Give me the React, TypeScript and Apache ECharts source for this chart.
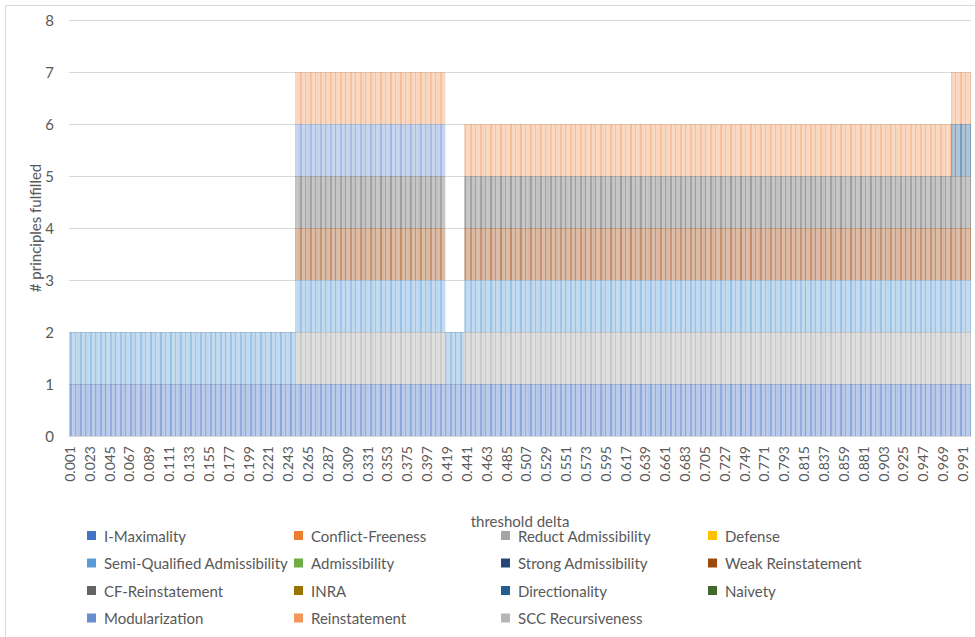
import React, { useEffect, useRef } from "react";
import * as echarts from "echarts";

// categories: threshold delta 0.001 .. 1.000
const categories: string[] = Array.from({ length: 1000 }, (_, i) => ((i + 1) / 1000).toFixed(3));

// principle names in Excel series order
const seriesNames = [
  "I-Maximality",
  "Conflict-Freeness",
  "Reduct Admissibility",
  "Defense",
  "Semi-Qualified Admissibility",
  "Admissibility",
  "Strong Admissibility",
  "Weak Reinstatement",
  "CF-Reinstatement",
  "INRA",
  "Directionality",
  "Naivety",
  "Modularization",
  "Reinstatement",
  "SCC Recursiveness",
];

const seriesColors = [
  "#4472C4", "#ED7D31", "#A5A5A5", "#FFC000", "#5B9BD5", "#70AD47",
  "#264478", "#9E480E", "#636363", "#997300", "#255E91", "#43682B",
  "#698ED0", "#F1975A", "#B7B7B7",
];

// delta ranges (inclusive) in which each principle is fulfilled
const iMaximality: [number, number][] = [[0.001, 1.0]];
const conflictFreeness: [number, number][] = [];
const reductAdmissibility: [number, number][] = [[0.252, 0.417], [0.439, 1.0]];
const defense: [number, number][] = [];
const semiQualifiedAdmissibility: [number, number][] = [[0.001, 1.0]];
const admissibility: [number, number][] = [];
const strongAdmissibility: [number, number][] = [];
const weakReinstatement: [number, number][] = [[0.252, 0.417], [0.439, 1.0]];
const cfReinstatement: [number, number][] = [[0.252, 0.417], [0.439, 1.0]];
const inra: [number, number][] = [];
const directionality: [number, number][] = [[0.979, 1.0]];
const naivety: [number, number][] = [];
const modularization: [number, number][] = [[0.252, 0.417]];
const reinstatement: [number, number][] = [[0.252, 0.417], [0.439, 1.0]];
const sccRecursiveness: [number, number][] = [];

const seriesRanges = [
  iMaximality, conflictFreeness, reductAdmissibility, defense,
  semiQualifiedAdmissibility, admissibility, strongAdmissibility, weakReinstatement,
  cfReinstatement, inra, directionality, naivety,
  modularization, reinstatement, sccRecursiveness,
];

const yTicks = [0, 1, 2, 3, 4, 5, 6, 7, 8];

function hexToRgba(hex: string, a: number) {
  const r = parseInt(hex.slice(1, 3), 16);
  const g = parseInt(hex.slice(3, 5), 16);
  const b = parseInt(hex.slice(5, 7), 16);
  return `rgba(${r},${g},${b},${a})`;
}

const FONT = "Lato";
const TEXT = "#595959";

export default function App() {
  const ref = useRef<HTMLDivElement>(null);
  useEffect(() => {
    if (!ref.current) return;
    const chart = echarts.init(ref.current, undefined, { renderer: "svg" });

    const series = seriesNames.map((name, si) => ({
      name,
      type: "bar",
      stack: "total",
      barCategoryGap: "0%",
      itemStyle: {
        color: hexToRgba(seriesColors[si], 0.36),
        decal: {
          symbol: "rect",
          symbolSize: 1,
          dashArrayX: [[1.5, 3, 1, 4]],
          dashArrayY: [40, 0],
          color: hexToRgba(seriesColors[si], 0.35),
        },
      },
      data: categories.map((c) => {
        const v = parseFloat(c);
        return seriesRanges[si].some(([a, b]) => v >= a - 1e-9 && v <= b + 1e-9) ? 1 : "-";
      }),
    }));

    const columns = [
      [0, 4, 8, 12],
      [1, 5, 9, 13],
      [2, 6, 10, 14],
      [3, 7, 11],
    ];
    const colX = [87, 294, 501, 708];

    const legends = columns.map((col, ci) => ({
      orient: "vertical",
      left: colX[ci],
      top: 527,
      padding: 0,
      icon: "rect",
      itemWidth: 9,
      itemHeight: 9,
      itemGap: 10.5,
      selectedMode: false,
      textStyle: { fontFamily: FONT, fontSize: 15, color: TEXT, lineHeight: 17, padding: [0, 0, 0, 3] },
      data: col.map((i) => ({ name: seriesNames[i], itemStyle: { color: seriesColors[i], opacity: 1, decal: "none" } })),
    }));

    chart.setOption({
      animation: false,
      backgroundColor: "#ffffff",
      textStyle: { fontFamily: FONT },
      grid: { left: 69, right: 4, top: 20, bottom: 201, containLabel: false },
      legend: legends,
      xAxis: {
        type: "category",
        data: categories,
        name: "threshold delta",
        nameLocation: "middle",
        nameGap: 77,
        nameMoveOverlap: false,
        nameTextStyle: { fontFamily: FONT, fontSize: 15, color: TEXT },
        axisLine: { show: true, lineStyle: { color: "#d9d9d9" } },
        axisTick: { show: false },
        axisLabel: {
          interval: 21,
          rotate: 90,
          margin: 10,
          fontFamily: FONT,
          fontSize: 14,
          color: TEXT,
        },
      },
      yAxis: {
        type: "value",
        min: yTicks[0],
        max: yTicks[yTicks.length - 1],
        interval: 1,
        name: "# principles fulfilled",
        nameLocation: "middle",
        nameGap: 27,
        nameMoveOverlap: false,
        nameTextStyle: { fontFamily: FONT, fontSize: 15, color: TEXT },
        axisLine: { show: false },
        axisTick: { show: false },
        splitLine: { lineStyle: { color: "#d9d9d9" } },
        axisLabel: { margin: 15, fontFamily: FONT, fontSize: 15, color: TEXT },
      },
      graphic: [
        { type: "line", shape: { x1: 5.5, y1: 5.5, x2: 975, y2: 5.5 }, style: { stroke: "#d9d9d9", lineWidth: 1 } },
        { type: "line", shape: { x1: 5.5, y1: 5.5, x2: 5.5, y2: 637 }, style: { stroke: "#d9d9d9", lineWidth: 1 } },
      ],
      series,
    });
    return () => chart.dispose();
  }, []);
  return (
    <div
      ref={ref}
      style={{ position: "fixed", left: 0, top: 0, width: 975, height: 637, background: "#fff" }}
    />
  );
}
